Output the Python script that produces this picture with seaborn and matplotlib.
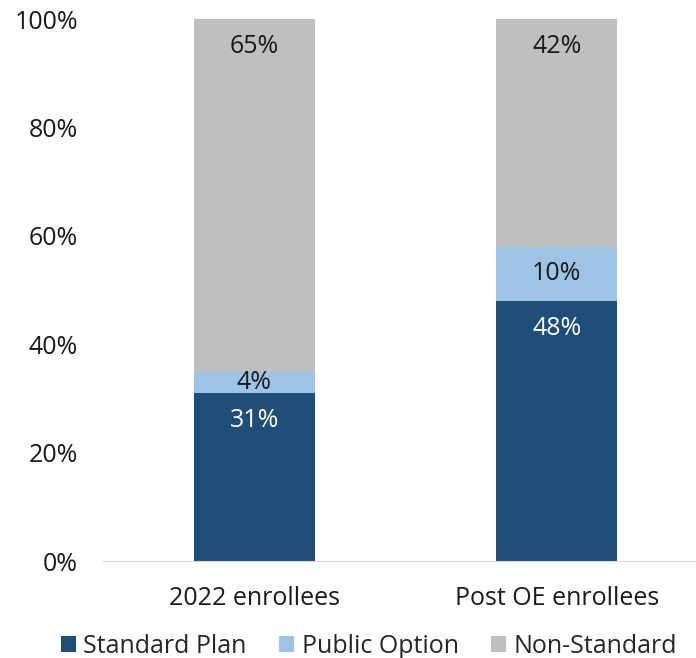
import matplotlib
matplotlib.use("Agg")
import pandas as pd
import matplotlib.pyplot as plt
import seaborn as sns

# data
groups = ["2022 enrollees", "Post OE enrollees"]
standard = [31, 48]
public = [4, 10]
non_standard = [65, 42]

colors = {"Standard Plan": "#1F4E79", "Public Option": "#9DC3E6", "Non-Standard": "#BFBFBF"}

df = pd.DataFrame({"group": groups, "Standard Plan": standard,
                   "Public Option": public, "Non-Standard": non_standard})
df["cum_std"] = df["Standard Plan"]
df["cum_pub"] = df["cum_std"] + df["Public Option"]
df["cum_all"] = df["cum_pub"] + df["Non-Standard"]

sns.set_style("white")
plt.rcParams["font.family"] = ["Open Sans", "DejaVu Sans"]
fs = 18

fig = plt.figure(figsize=(6.96, 6.58), dpi=100)
ax = fig.add_axes([0.148, 0.147, 0.852, 0.824])

# stacked bars drawn back to front
sns.barplot(data=df, x="group", y="cum_all", color=colors["Non-Standard"], width=0.4,
            saturation=1, ax=ax, label="Non-Standard", linewidth=0)
sns.barplot(data=df, x="group", y="cum_pub", color=colors["Public Option"], width=0.4,
            saturation=1, ax=ax, label="Public Option", linewidth=0)
sns.barplot(data=df, x="group", y="cum_std", color=colors["Standard Plan"], width=0.4,
            saturation=1, ax=ax, label="Standard Plan", linewidth=0)
handles, labels = ax.get_legend_handles_labels()
if ax.get_legend() is not None:
    ax.get_legend().remove()

# value labels
for i, row in df.iterrows():
    ax.text(i, row["cum_std"] - 5, f"{row['Standard Plan']}%", ha="center", va="center",
            color="white", fontsize=fs)
    ax.text(i, row["cum_std"] + row["Public Option"] / 2, f"{row['Public Option']}%",
            ha="center", va="center", color="#1a1a1a", fontsize=fs)
    ax.text(i, row["cum_all"] - 5, f"{row['Non-Standard']}%", ha="center", va="center",
            color="#1a1a1a", fontsize=fs)

ax.set_ylim(0, 100)
ax.set_xlim(-0.5, 1.46)
ax.set_yticks(range(0, 101, 20))
ax.set_yticklabels([f"{v}%" for v in range(0, 101, 20)], fontsize=fs, color="#1a1a1a")
ax.tick_params(axis="x", labelsize=fs, colors="#1a1a1a", pad=18, length=0)
ax.tick_params(axis="y", pad=18, length=0)
ax.set_xlabel("")
ax.set_ylabel("")
for s in ["top", "right", "left"]:
    ax.spines[s].set_visible(False)
ax.spines["bottom"].set_color("#d9d9d9")

order = ["Standard Plan", "Public Option", "Non-Standard"]
h = [handles[labels.index(o)] for o in order]
fig.legend(h, order, loc="lower center", bbox_to_anchor=(0.53, -0.036), ncol=3,
           frameon=False, fontsize=fs, handlelength=0.6, handleheight=0.6,
           handletextpad=0.3, columnspacing=1.3)

fig.savefig("out.png", dpi=100)
